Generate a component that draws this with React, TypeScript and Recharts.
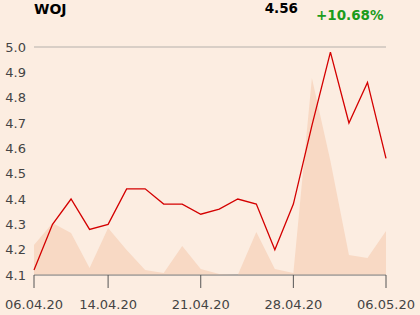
import { ComposedChart, Area, Line, XAxis, YAxis, CartesianGrid } from 'recharts';

const dates = [
  '06.04.20', '07.04.20', '08.04.20', '09.04.20', '14.04.20',
  '15.04.20', '16.04.20', '17.04.20', '20.04.20', '21.04.20',
  '22.04.20', '23.04.20', '24.04.20', '27.04.20', '28.04.20',
  '29.04.20', '30.04.20', '04.05.20', '05.05.20', '06.05.20',
];
const prices = [
  4.12, 4.3, 4.4, 4.28, 4.3, 4.44, 4.44, 4.38, 4.38, 4.34,
  4.36, 4.4, 4.38, 4.2, 4.38, 4.69, 4.98, 4.7, 4.86, 4.56,
];
const volumes = [
  30, 52, 42, 7, 47, 25, 5, 2, 29, 6,
  1, 0, 43, 6, 2, 197, 114, 20, 17, 44,
];
const xTicks = ['06.04.20', '14.04.20', '21.04.20', '28.04.20', '06.05.20'];
const yTicks = [4.1, 4.2, 4.3, 4.4, 4.5, 4.6, 4.7, 4.8, 4.9, 5.0];

const data = dates.map((d, i) => ({ date: d, price: prices[i], volume: volumes[i] }));

const BG = '#fcede1';

export default function App() {
  return (
    <div
      style={{
        position: 'fixed',
        left: 0,
        top: 0,
        width: 420,
        height: 315,
        background: BG,
        fontFamily: '"DejaVu Sans", sans-serif',
      }}
    >
      <div style={{ position: 'absolute', left: 34, top: 1, fontSize: 14, fontWeight: 'bold', color: '#000' }}>
        WOJ
      </div>
      <div style={{ position: 'absolute', right: 122, top: 0, fontSize: 13.5, fontWeight: 'bold', color: '#000' }}>
        4.56
      </div>
      <div style={{ position: 'absolute', left: 316, top: 7, fontSize: 13.5, fontWeight: 'bold', color: '#1c9c1c' }}>
        +10.68%
      </div>
      <ComposedChart
        width={420}
        height={315}
        data={data}
        margin={{ top: 47, right: 34, bottom: 0, left: 0 }}
      >
        <CartesianGrid stroke="#b5b0ab" vertical={false} />
        <XAxis
          dataKey="date"
          ticks={xTicks}
          interval={0}
          height={40}
          tickSize={13}
          tickMargin={12}
          stroke="#888"
          tickLine={{ stroke: '#555' }}
          tick={{ fontSize: 13, fill: '#444', fontFamily: '"DejaVu Sans", sans-serif' }}
        />
        <YAxis
          yAxisId="price"
          domain={[4.1, 5.0]}
          ticks={yTicks}
          width={34}
          axisLine={false}
          tickLine={false}
          tickFormatter={(v) => Number(v).toFixed(1)}
          tick={{ fontSize: 13, fill: '#444', fontFamily: '"DejaVu Sans", sans-serif' }}
        />
        <YAxis yAxisId="vol" domain={[0, 228]} hide />
        <Area
          yAxisId="vol"
          dataKey="volume"
          type="linear"
          stroke="none"
          fill="#f8d9c4"
          fillOpacity={1}
          isAnimationActive={false}
        />
        <Line
          yAxisId="price"
          dataKey="price"
          type="linear"
          stroke="#d40000"
          strokeWidth={1.3}
          dot={false}
          isAnimationActive={false}
        />
      </ComposedChart>
    </div>
  );
}
